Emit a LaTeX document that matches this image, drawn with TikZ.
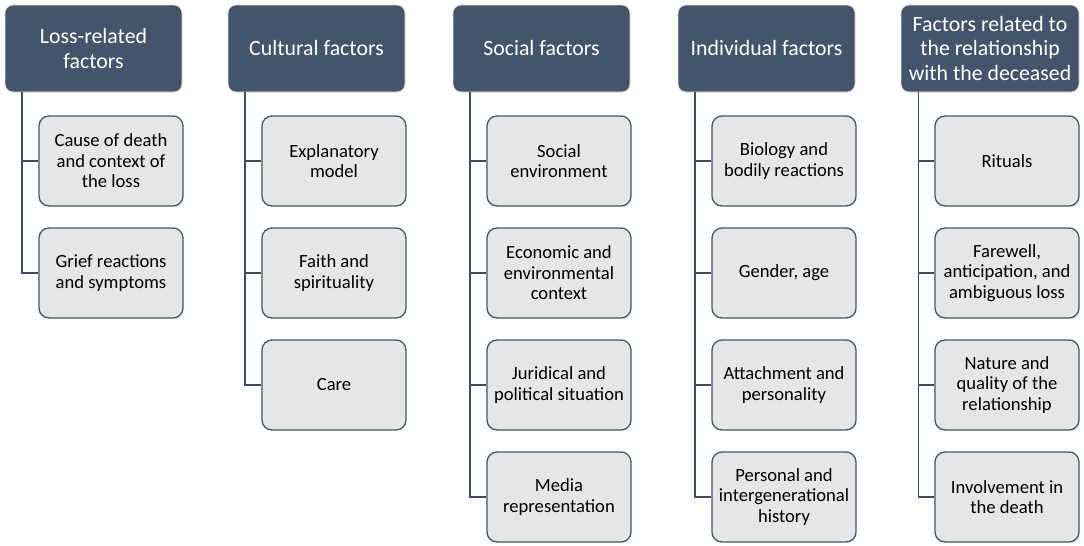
\documentclass[tikz,border=0pt]{standalone}
\usepackage{fontspec}
\setmainfont{Carlito}
\definecolor{hdrfill}{HTML}{44546A}
\definecolor{boxfill}{HTML}{E7E6E6}
\definecolor{linecol}{HTML}{3E4C61}
\tikzset{
  hdr/.style={rectangle, rounded corners=8pt, fill=hdrfill, draw=white!88!black, line width=0.8pt,
    minimum width=177pt, minimum height=87pt, inner sep=0pt, align=center, text=white,
    font=\fontsize{21.8}{24.2}\selectfont},
  sub/.style={rectangle, rounded corners=10pt, fill=boxfill, draw=hdrfill, line width=1.3pt,
    minimum width=144pt, minimum height=90pt, inner sep=0pt, align=center, text=black,
    font=\fontsize{18.6}{20.6}\selectfont},
  conn/.style={draw=linecol, line width=1.5pt}
}
\begin{document}
\begin{tikzpicture}[x=1pt,y=-1pt]
\useasboundingbox[fill=white] (0,0) rectangle (1084,546);
% headers (left edges 5,228,453,678,901)
\node[hdr] (h1) at (93.5,48.5) {Loss-related\\factors};
\node[hdr] (h2) at (316.5,48.5) {Cultural factors};
\node[hdr] (h3) at (541.5,48.5) {Social factors};
\node[hdr] (h4) at (766.5,48.5) {Individual factors};
\node[hdr, minimum width=178pt] (h5) at (990,48.5) {Factors related to\\the relationship\\with the deceased};
% column 1
\node[sub] (a1) at (111,161) {Cause of death\\and context of\\the loss};
\node[sub] (a2) at (111,273) {Grief reactions\\and symptoms};
% column 2
\node[sub] (b1) at (334,161) {Explanatory\\model};
\node[sub] (b2) at (334,273) {Faith and\\spirituality};
\node[sub] (b3) at (334,385) {Care};
% column 3
\node[sub] (c1) at (559,161) {Social\\environment};
\node[sub] (c2) at (559,273) {Economic and\\environmental\\context};
\node[sub] (c3) at (559,385) {Juridical and\\political situation};
\node[sub] (c4) at (559,497) {Media\\representation};
% column 4
\node[sub] (d1) at (784,161) {Biology and\\bodily reactions};
\node[sub] (d2) at (784,273) {Gender, age};
\node[sub] (d3) at (784,385) {Attachment and\\personality};
\node[sub] (d4) at (784,497) {Personal and\\intergenerational\\history};
% column 5
\node[sub] (e1) at (1007,161) {Rituals};
\node[sub] (e2) at (1007,273) {Farewell,\\anticipation, and\\ambiguous loss};
\node[sub] (e3) at (1007,385) {Nature and\\quality of the\\relationship};
\node[sub] (e4) at (1007,497) {Involvement in\\the death};
% connectors
\foreach \h/\list in {h1/{a1,a2}, h2/{b1,b2,b3}, h3/{c1,c2,c3,c4}, h4/{d1,d2,d3,d4}, h5/{e1,e2,e3,e4}} {
  \foreach \s in \list {
    \draw[conn] ([xshift=-71.5pt]\h.south) |- (\s.west);
  }
}
\end{tikzpicture}
\end{document}
